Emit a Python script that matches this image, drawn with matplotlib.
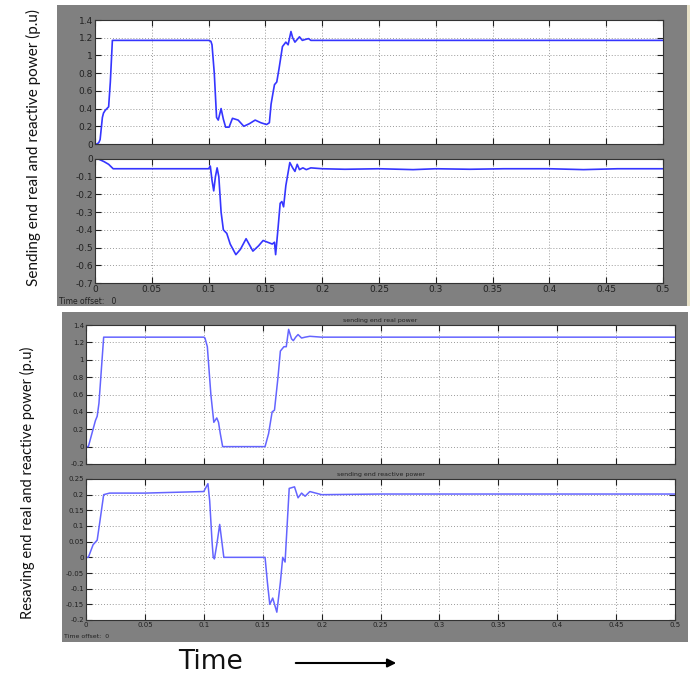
import matplotlib
matplotlib.use("Agg")
import matplotlib.pyplot as plt
from matplotlib.patches import Rectangle, FancyArrowPatch

# ---------------- data ----------------
send_real_t = [0, 0.002, 0.0035, 0.0045, 0.0065, 0.0075, 0.009, 0.012, 0.0135, 0.0153, 0.02, 0.05,
               0.1, 0.102, 0.103, 0.105, 0.107, 0.1085, 0.111, 0.113, 0.115, 0.118, 0.121, 0.126,
               0.131, 0.136, 0.141, 0.146, 0.151, 0.1535, 0.155, 0.157, 0.158, 0.16, 0.162, 0.165,
               0.168, 0.170, 0.1725, 0.174, 0.176, 0.178, 0.180, 0.1825, 0.185, 0.188, 0.190, 0.2,
               0.25, 0.3, 0.35, 0.4, 0.45, 0.5]
send_real_v = [0, 0.0, 0.02, 0.05, 0.3, 0.35, 0.38, 0.42, 0.7, 1.17, 1.17, 1.17,
               1.17, 1.16, 1.12, 0.8, 0.3, 0.27, 0.4, 0.28, 0.19, 0.19, 0.29, 0.27,
               0.2, 0.23, 0.27, 0.24, 0.22, 0.24, 0.45, 0.6, 0.67, 0.7, 0.85, 1.1,
               1.15, 1.12, 1.27, 1.2, 1.15, 1.18, 1.21, 1.17, 1.18, 1.19, 1.17, 1.17,
               1.17, 1.17, 1.17, 1.17, 1.17, 1.17]

send_reac_t = [0, 0.003, 0.008, 0.012, 0.016, 0.05, 0.1, 0.1015, 0.103, 0.1045, 0.106, 0.1075,
               0.109, 0.111, 0.113, 0.116, 0.119, 0.124, 0.128, 0.133, 0.139, 0.144, 0.148,
               0.152, 0.156, 0.158, 0.159, 0.161, 0.163, 0.1645, 0.166, 0.168, 0.1715, 0.174,
               0.176, 0.178, 0.18, 0.183, 0.186, 0.19, 0.2, 0.22, 0.25, 0.28, 0.3, 0.33, 0.36,
               0.4, 0.43, 0.46, 0.5]
send_reac_v = [0, 0.0, -0.015, -0.03, -0.055, -0.055, -0.055, -0.04, -0.12, -0.18, -0.1, -0.05,
               -0.1, -0.3, -0.4, -0.42, -0.48, -0.54, -0.51, -0.45, -0.52, -0.49, -0.46,
               -0.47, -0.48, -0.47, -0.54, -0.4, -0.25, -0.24, -0.27, -0.15, -0.02, -0.05,
               -0.07, -0.03, -0.06, -0.05, -0.06, -0.05, -0.055, -0.058, -0.055, -0.06, -0.055, -0.058, -0.055,
               -0.055, -0.06, -0.055, -0.055]

recv_real_t = [0, 0.002, 0.006, 0.008, 0.0095, 0.011, 0.015, 0.02, 0.05, 0.1, 0.101, 0.103,
               0.106, 0.1085, 0.111, 0.1125, 0.114, 0.116, 0.13, 0.152, 0.155, 0.158, 0.16,
               0.163, 0.165, 0.168, 0.170, 0.172, 0.1745, 0.176, 0.178, 0.180, 0.183, 0.186,
               0.19, 0.2, 0.25, 0.3, 0.35, 0.4, 0.45, 0.5]
recv_real_v = [0, 0.0, 0.2, 0.3, 0.35, 0.5, 1.26, 1.26, 1.26, 1.26, 1.25, 1.15,
               0.6, 0.28, 0.33, 0.28, 0.15, 0.0, 0.0, 0.0, 0.15, 0.4, 0.42,
               0.8, 1.1, 1.15, 1.15, 1.35, 1.24, 1.22, 1.26, 1.29, 1.25, 1.26,
               1.27, 1.26, 1.26, 1.26, 1.26, 1.26, 1.26, 1.26]

recv_reac_t = [0, 0.002, 0.006, 0.0095, 0.012, 0.015, 0.02, 0.05, 0.1, 0.1035, 0.105,
               0.107, 0.108, 0.109, 0.111, 0.1135, 0.115, 0.117, 0.13, 0.152, 0.154, 0.156,
               0.1585, 0.162, 0.165, 0.167, 0.169, 0.1725, 0.177, 0.18, 0.183, 0.186, 0.19,
               0.2, 0.25, 0.3, 0.35, 0.4, 0.45, 0.5]
recv_reac_v = [0, 0.0, 0.04, 0.055, 0.12, 0.2, 0.205, 0.205, 0.21, 0.235, 0.18,
               0.05, 0.0, -0.005, 0.04, 0.105, 0.06, 0.0, 0.0, 0.0, -0.08, -0.15,
               -0.13, -0.175, -0.08, 0.0, -0.015, 0.22, 0.225, 0.19, 0.205, 0.195, 0.21,
               0.2, 0.202, 0.202, 0.202, 0.202, 0.202, 0.202]

x_ticks = [0, 0.05, 0.1, 0.15, 0.2, 0.25, 0.3, 0.35, 0.4, 0.45, 0.5]
x_ticklabels = ["0", "0.05", "0.1", "0.15", "0.2", "0.25", "0.3", "0.35", "0.4", "0.45", "0.5"]
yt_send_real = [0, 0.2, 0.4, 0.6, 0.8, 1, 1.2, 1.4]
yl_send_real = ["0", "0.2", "0.4", "0.6", "0.8", "1", "1.2", "1.4"]
yt_send_reac = [-0.7, -0.6, -0.5, -0.4, -0.3, -0.2, -0.1, 0]
yl_send_reac = ["-0.7", "-0.6", "-0.5", "-0.4", "-0.3", "-0.2", "-0.1", "0"]
yt_recv_real = [-0.2, 0, 0.2, 0.4, 0.6, 0.8, 1, 1.2, 1.4]
yl_recv_real = ["-0.2", "0", "0.2", "0.4", "0.6", "0.8", "1", "1.2", "1.4"]
yt_recv_reac = [-0.2, -0.15, -0.1, -0.05, 0, 0.05, 0.1, 0.15, 0.2, 0.25]
yl_recv_reac = ["-0.2", "-0.15", "-0.1", "-0.05", "0", "0.05", "0.1", "0.15", "0.2", "0.25"]

# ---------------- figure ----------------
W, H = 696, 679
fig = plt.figure(figsize=(W / 100, H / 100), dpi=100)
fig.patch.set_facecolor("white")

def box(x0, y0, x1, y1):
    return [x0 / W, 1 - y1 / H, (x1 - x0) / W, (y1 - y0) / H]

grey = "#808080"
# grey scope panels (drawn behind the axes)
for rect in [
    Rectangle((57 / W, 1 - 306 / H), (687 - 57) / W, (306 - 5) / H, facecolor=grey),
    Rectangle((687 / W, 1 - 306 / H), 3 / W, (306 - 5) / H, facecolor="#e8e2c8"),
    Rectangle((62 / W, 1 - 642 / H), (688 - 62) / W, (642 - 312) / H, facecolor=grey),
]:
    rect.set_transform(fig.transFigure)
    rect.set_edgecolor("none")
    rect.set_zorder(-5)
    fig.patches.append(rect)

def style(ax, yt, yl, ylim, show_x, fs, color_lbl):
    ax.set_xlim(0, 0.5)
    ax.set_ylim(*ylim)
    ax.set_xticks(x_ticks)
    ax.set_yticks(yt)
    ax.set_yticklabels(yl, fontsize=fs, color=color_lbl)
    if show_x:
        ax.set_xticklabels(x_ticklabels, fontsize=fs, color=color_lbl)
    else:
        ax.set_xticklabels([])
    ax.grid(True, linestyle=(0, (1, 2)), color="#9a9a9a", linewidth=0.7)
    ax.tick_params(direction="in", top=True, right=True, length=4, width=0.8, pad=1.5, colors="#222222",
                   labelcolor=color_lbl)
    for s in ax.spines.values():
        s.set_color("#333333")
        s.set_linewidth(0.8)
    ax.set_facecolor("white")

line1 = "#3535ff"
line2 = "#6464ff"

ax1 = fig.add_axes(box(95, 20, 663, 144))
ax1.plot(send_real_t, send_real_v, color=line1, lw=1.2)
style(ax1, yt_send_real, yl_send_real, (0, 1.4), False, 6.5, "#222222")

ax2 = fig.add_axes(box(95, 159, 663, 283))
ax2.plot(send_reac_t, send_reac_v, color=line1, lw=1.2)
style(ax2, yt_send_reac, yl_send_reac, (-0.7, 0), True, 6.5, "#222222")

ax3 = fig.add_axes(box(86, 325, 675, 464))
ax3.plot(recv_real_t, recv_real_v, color=line2, lw=1.1)
style(ax3, yt_recv_real, yl_recv_real, (-0.2, 1.4), False, 5, "#222222")
ax3.set_title("sending end real power", fontsize=4.5, pad=2, color="#222222")

ax4 = fig.add_axes(box(86, 479, 675, 620))
ax4.plot(recv_reac_t, recv_reac_v, color=line2, lw=1.1)
style(ax4, yt_recv_reac, yl_recv_reac, (-0.2, 0.25), True, 5, "#222222")
ax4.set_title("sending end reactive power", fontsize=4.5, pad=2, color="#222222")

fig.text(59 / W, 1 - 301 / H, "Time offset:   0", fontsize=5.5, color="#222222", va="center")
fig.text(64 / W, 1 - 637 / H, "Time offset:  0", fontsize=4.5, color="#222222", va="center")

cond = ["Lato", "DejaVu Sans"]
fig.text(33 / W, 1 - 148 / H, "Sending end real and reactive power (p.u)", rotation=90,
         fontsize=11, family=cond, ha="center", va="center", color="#111111")
fig.text(27 / W, 1 - 483 / H, "Resaving end real and reactive power (p.u)", rotation=90,
         fontsize=10.5, family=cond, ha="center", va="center", color="#111111")

fig.text(210 / W, 1 - 662 / H, "Time", fontsize=19, ha="center", va="center", color="#111111")
arrow = FancyArrowPatch((293 / W, 1 - 663 / H), (399 / W, 1 - 663 / H), transform=fig.transFigure,
                        arrowstyle="-|>,head_length=5,head_width=2.5", color="black", lw=1.5)
fig.patches.append(arrow)

fig.savefig("out.png", dpi=100)
